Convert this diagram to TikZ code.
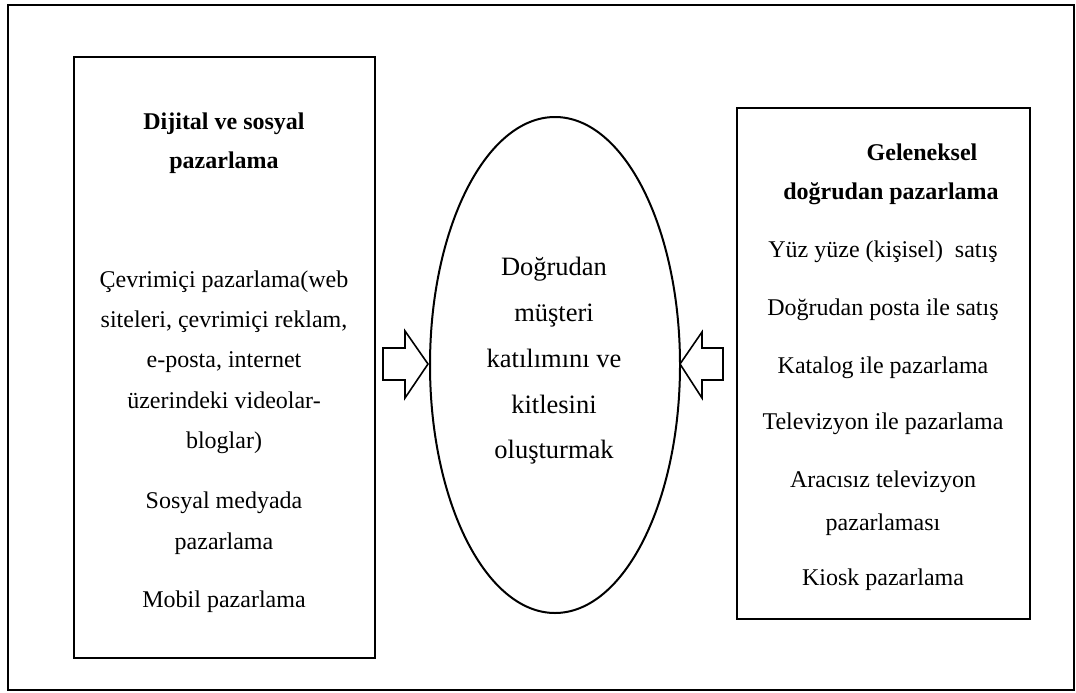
\documentclass[tikz,border=0pt]{standalone}
\usepackage{fontspec}
\setmainfont{Liberation Serif}
\usetikzlibrary{shapes.geometric}
\begin{document}
\begin{tikzpicture}[x=1pt,y=-1pt,
  boxline/.style={draw=black,line width=2.5pt},
  txt/.style={anchor=base,inner sep=0pt,font=\fontsize{24}{28}\selectfont},
  hdr/.style={txt,font=\fontsize{24}{28}\selectfont\bfseries},
  etxt/.style={anchor=base,inner sep=0pt,font=\fontsize{26.5}{30}\selectfont},
  blockarrow/.style={draw=black,line width=1.6pt,fill=white,line join=miter}]
\useasboundingbox (0,0) rectangle (1076,693);
% outer frame
\draw[line width=2pt] (8,5) rectangle (1074,690);
% left box
\draw[boxline] (74,57) rectangle (375,658);
% right box
\draw[boxline] (737,108) rectangle (1030,619);
% ellipse
\node[draw=black,line width=2pt,ellipse,minimum width=250pt,minimum height=496pt,inner sep=0pt] (ell) at (555,365) {};
% arrows
\draw[blockarrow] (383,348) -- (405,348) -- (405,331) -- (428,364) -- (405,398) -- (405,380) -- (383,380) -- cycle;
\draw[blockarrow] (723,348) -- (702,348) -- (702,332) -- (680,364) -- (702,398) -- (702,380) -- (723,380) -- cycle;
% left texts
\node[hdr] (l1) at (224,129) {Dijital ve sosyal};
\node[hdr] (l2) at (224,168) {pazarlama};
\node[txt] (l3) at (224,287) {Çevrimiçi pazarlama(web};
\node[txt] (l4) at (224,327) {siteleri, çevrimiçi reklam,};
\node[txt] (l5) at (224,367) {e-posta, internet};
\node[txt] (l6) at (224,408) {üzerindeki videolar-};
\node[txt] (l7) at (224,448) {bloglar)};
\node[txt] (l8) at (224,508) {Sosyal medyada};
\node[txt] (l9) at (224,549) {pazarlama};
\node[txt] (l10) at (224,607) {Mobil pazarlama};
% ellipse texts
\node[etxt] (e1) at (554,275) {Doğrudan};
\node[etxt] (e2) at (554,321) {müşteri};
\node[etxt] (e3) at (554,367) {katılımını ve};
\node[etxt] (e4) at (554,413) {kitlesini};
\node[etxt] (e5) at (554,458) {oluşturmak};
% right texts
\node[hdr] (r1) at (922,160) {Geleneksel};
\node[hdr] (r2) at (891,199) {doğrudan pazarlama};
\node[txt] (r3) at (883,257) {Yüz yüze (kişisel)\ \ satış};
\node[txt] (r4) at (883,315) {Doğrudan posta ile satış};
\node[txt] (r5) at (883,373) {Katalog ile pazarlama};
\node[txt] (r6) at (883,429) {Televizyon ile pazarlama};
\node[txt] (r7) at (883,487) {Aracısız televizyon};
\node[txt] (r8) at (883,530) {pazarlaması};
\node[txt] (r9) at (883,585) {Kiosk pazarlama};
\end{tikzpicture}
\end{document}
